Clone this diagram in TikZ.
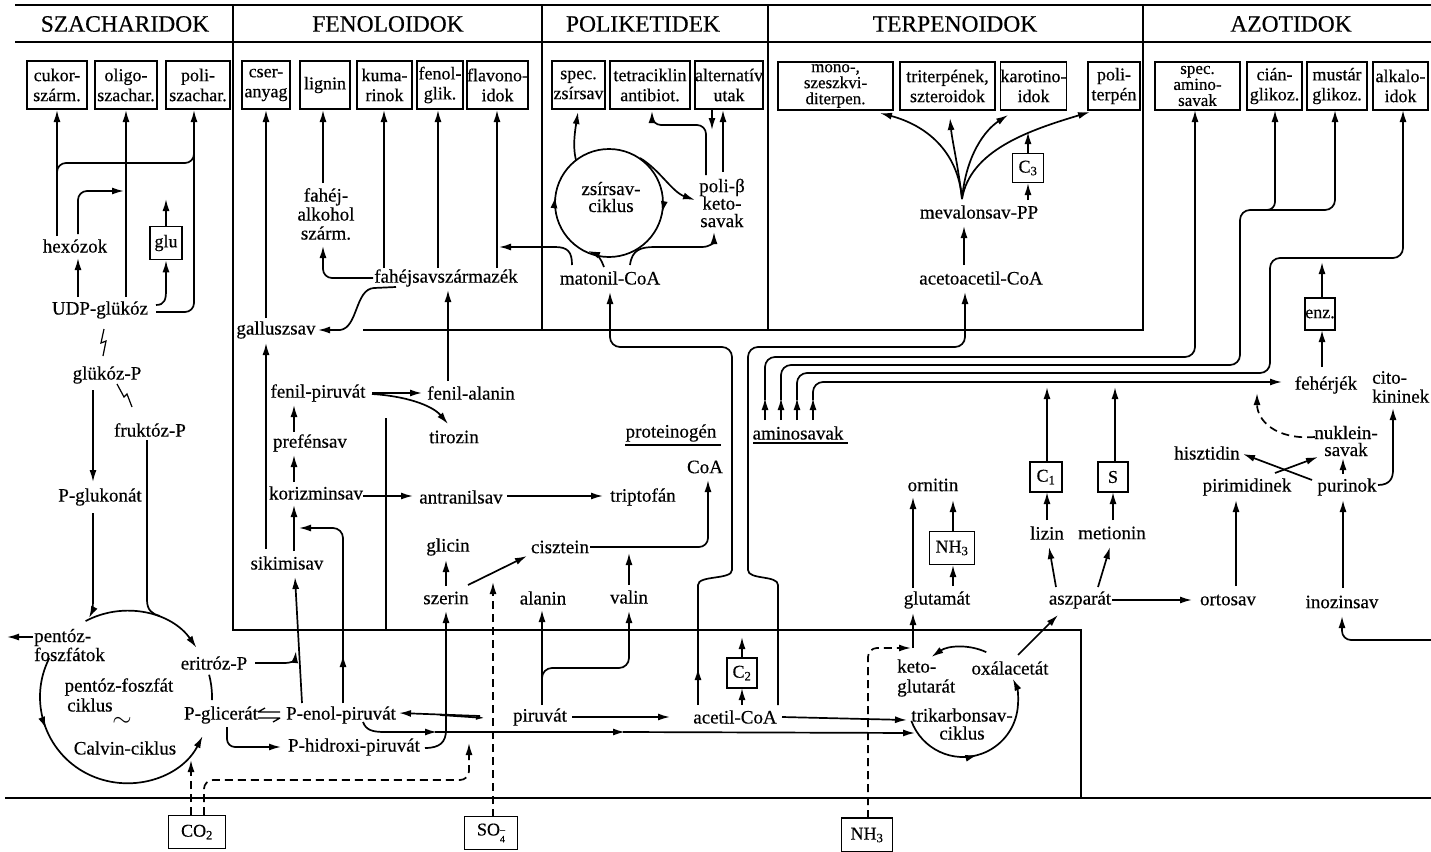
\documentclass[tikz,border=0pt]{standalone}
\usepackage{fontspec}
\setmainfont{Liberation Serif}[FakeBold=0.4]
\usetikzlibrary{arrows.meta,decorations.markings,calc}
\newcommand\lbf{\fontsize{19}{19}\selectfont}
\newcommand\bxf{\fontsize{18}{20}\selectfont}
\newcommand\bxs{\fontsize{17}{16}\selectfont}
\newcommand\hdf{\fontsize{23.5}{25}\selectfont}
\begin{document}
\begin{tikzpicture}[x=1pt,y=-1pt]
\tikzset{
 ln/.style={line width=1.7pt},
 ar/.style={ln,-{Latex[length=12pt,width=7pt]}},
 fr/.style={line width=1.6pt},
 dsh/.style={dash pattern=on 8pt off 5pt},
 lbl/.style={font=\lbf, inner sep=1pt, align=center},
 box/.style={draw, line width=1.6pt, font=\bxf, align=center, inner sep=0pt},
 hd/.style={font=\hdf, inner sep=1pt},
 midarrow/.style={postaction={decorate},decoration={markings,mark=at position #1 with {\arrow{Latex[length=12pt,width=7pt]}}}}
}
\useasboundingbox (0,0) rectangle (1431,851);
% ---------- frame
\draw[fr] (15,5) -- (1431,5);
\draw[fr] (15,42) -- (1431,42);
\draw[fr] (233,5) -- (233,630) -- (1081,630) -- (1081,798);
\draw[fr] (542,5) -- (542,330);
\draw[fr] (768,5) -- (768,330);
\draw[fr] (363,330) -- (1143,330) -- (1143,5);
\draw[fr] (386,418) -- (386,630);
\draw[fr] (5,798) -- (1431,798);
% ---------- headers
\node[hd] (h1) at (125,24) {SZACHARIDOK};
\node[hd] (h2) at (388,24) {FENOLOIDOK};
\node[hd] (h3) at (643,24) {POLIKETIDEK};
\node[hd] (h4) at (955,24) {TERPENOIDOK};
\node[hd] (h5) at (1291,24) {AZOTIDOK};
% ---------- top boxes
\node[box,minimum width=60,minimum height=48] (b1) at (57,85) {cukor-\\szárm.};
\node[box,minimum width=62,minimum height=48] (b2) at (126,85) {oligo-\\szachar.};
\node[box,minimum width=64,minimum height=48] (b3) at (198,85) {poli-\\szachar.};
\node[box,minimum width=48,minimum height=48] (b4) at (266,85) {cser-\\anyag};
\node[box,minimum width=50,minimum height=48] (b5) at (325,85) {lignin};
\node[box,minimum width=55,minimum height=48] (b6) at (384.5,85) {kuma-\\rinok};
\node[box,minimum width=46,minimum height=48] (b7) at (440,85) {fenol-\\glik.};
\node[box,minimum width=59,minimum height=48] (b8) at (497.5,85) {flavono-\\idok};
\node[box,minimum width=53,minimum height=48] (b9) at (578.5,85) {spec.\\zsírsav};
\node[box,minimum width=80,minimum height=48] (b10) at (650,85) {tetraciklin\\antibiot.};
\node[box,minimum width=68,minimum height=48] (b11) at (729,85) {alternatív\\utak};
\node[box,minimum width=115,minimum height=48,font=\bxs] (b12) at (835.5,86) {mono-,\\szeszkvi-\\diterpen.};
\node[box,minimum width=95,minimum height=48] (b13) at (947.5,86) {triterpének,\\szteroidok};
\node[box,minimum width=63,minimum height=48] (b14) at (1033.5,86) {karotino-\\idok};
\node[box,minimum width=52,minimum height=48] (b15) at (1114,86) {poli-\\terpén};
\node[box,minimum width=85,minimum height=48,font=\bxs] (b16) at (1197.5,86) {spec.\\amino-\\savak};
\node[box,minimum width=55,minimum height=48] (b17) at (1274.5,86) {cián-\\glikoz.};
\node[box,minimum width=60,minimum height=48] (b18) at (1337,86) {mustár\\glikoz.};
\node[box,minimum width=55,minimum height=48] (b19) at (1400.5,86) {alkalo-\\idok};
% ---------- SZACHARIDOK
\node[lbl] (hexozok) at (75,246) {hexózok};
\node[box,minimum width=32,minimum height=33] (glu) at (166,243) {glu};
\node[lbl] (udp) at (100,310) {UDP-glükóz};
\node[lbl] (glukp) at (107,375) {glükóz-P};
\node[lbl] (frukp) at (150,430) {fruktóz-P};
\node[lbl] (pglukonat) at (100,497) {P-glukonát};
\node[lbl,align=left,anchor=west] (pentoz) at (33,645) {pentóz-\\foszfátok};
\node[lbl] (eritroz) at (214,663) {eritróz-P};
\node[lbl] (pglicerat) at (221,715) {P-glicerát};
\node[lbl] (pfc) at (119,687) {pentóz-foszfát};
\node[lbl,anchor=west] (cikl1) at (66,705) {ciklus};
\node[font=\fontsize{26}{26}\selectfont] (tilde) at (122,722) {$\sim$};
\node[lbl] (calvin) at (125,748) {Calvin-ciklus};
\node[box,minimum width=57,minimum height=33] (co2) at (197,832) {CO\textsubscript{2}};

\draw[ar] (57,236) -- (57,110);
\draw[ln,rounded corners=9pt] (57,180) -- (57,163) -- (194,163) -- (194,150);
\draw[ar] (126,297) -- (126,110);
\draw[ar,rounded corners=9pt] (78,234) -- (78,191) -- (124,191);
\draw[ar] (78,297) -- (78,258);
\draw[ar] (glu.north) -- (166,199);
\draw[ar] (156,305) .. controls (165,305) and (166,299) .. (166,290) -- (glu.south);
\draw[ar,rounded corners=9pt] (156,312) -- (194,312) -- (194,110);
\draw[ln,line width=1.2pt] (104,329) -- (101,343) -- (106,341) -- (103,356);
\draw[ln,line width=1.2pt] (117,384) -- (124,397) -- (127,394) -- (132,407);
\draw[ar] (93,390) -- (93,482);
\draw[ar] (93,513) -- (93,600) .. controls (93,607) and (92,612) .. (89,618);
\draw[ln] (147,440) -- (147,600) .. controls (147,610) and (152,614) .. (160,616);
\draw[ar] ($(126,697)+(-118:86)$) arc[start angle=-118,end angle=-35,radius=86];
\draw[ar,midarrow=0.27] ($(126,697)+(-153:86)$) arc[start angle=-153,end angle=-333,radius=86];
\draw[ln] ($(126,697)+(-15:86)$) arc[start angle=-15,end angle=2,radius=86];
\draw[ar] (33,637) -- (7,637);
\draw[ar,dsh] (191,815) -- (191,760);
\draw[ar,dsh,rounded corners=9pt] (204,815) -- (204,780) -- (469,780) -- (469,743);
% ---------- FENOLOIDOK
\node[lbl] (fahejalk) at (326,214) {fahéj-\\alkohol\\szárm.};
\node[lbl] (fahejsav) at (446,278) {fahéjsavszármazék};
\node[lbl] (gallusz) at (276,330) {galluszsav};
\node[lbl] (sikimi) at (287,563) {sikimisav};
\node[lbl] (koriz) at (316,493) {korizminsav};
\node[lbl] (prefen) at (310,443) {prefénsav};
\node[lbl] (fenpir) at (318,393) {fenil-piruvát};
\node[lbl] (fenala) at (471,393) {fenil-alanin};
\node[lbl] (tirozin) at (454,437) {tirozin};
\node[lbl] (antran) at (461,497) {antranilsav};
\node[lbl] (tripto) at (643,497) {triptofán};
\node[lbl] (protein) at (671,433) {proteinogén};
\node[lbl] (coa) at (705,467) {CoA};
\node[lbl] (glicin) at (448,547) {glicin};
\node[lbl] (ciszt) at (560,547) {cisztein};
\node[lbl] (szerin) at (446,598) {szerin};
\node[lbl] (alanin) at (543,598) {alanin};
\node[lbl] (valin) at (629,597) {valin};
\node[lbl] (penol) at (341,715) {P-enol-piruvát};
\node[lbl] (phidr) at (354,747) {P-hidroxi-piruvát};
\node[lbl] (piruvat) at (540,717) {piruvát};
\node[lbl] (acetil) at (735,717) {acetil-CoA};
\node[box,minimum width=30,minimum height=30] (c2) at (742,673) {C\textsubscript{2}};
\node[box,minimum width=53,minimum height=33] (so4) at (491,833) {SO\raisebox{-7pt}{\fontsize{10}{12.5}\selectfont\shortstack[l]{--\\4}}};
\draw[fr] (625,445) -- (721,445);

\draw[ar] (384,268) -- (384,110);
\draw[ar] (438,268) -- (438,110);
\draw[ar] (497,268) -- (497,110);
\draw[ar,rounded corners=9pt] (373,278) -- (323,278) -- (323,246);
\draw[ar] (323,183) -- (323,110);
\draw[ar] (396,287) -- (374,288) .. controls (355,289) and (358,328) .. (340,330) -- (318,330);
\draw[ar] (266,318) -- (266,110);
\draw[ar] (266,549) -- (266,343);
\draw[ar] (294,551) -- (294,505);
\draw[ar] (294,482) -- (294,455);
\draw[ar] (294,432) -- (294,405);
\draw[ar] (302,703) -- (295,577);
\draw[ar] (255,663) -- (284,663) .. controls (292,663) and (295,660) .. (296,651);
\draw[ar] (343,703) -- (343,655);
\draw[ar,rounded corners=10pt] (343,660) -- (343,528) -- (299,528);
\draw[ar] (372,393) -- (422,393);
\draw[ar] (372,394) .. controls (405,396) and (432,405) .. (448,424);
\draw[ar] (448,381) -- (448,290);
\draw[ar] (363,496) -- (413,496);
\draw[ar] (507,496) -- (603,496);
\draw[ar,rounded corners=9pt] (590,547) -- (708,547) -- (708,480);
\draw[ar] (446,586) -- (446,560);
\draw[ar] (468,585) -- (527,556);
\draw[ar] (629,585) -- (629,553);
\draw[ar,dsh] (493,817) -- (493,582);
\draw[ar] (542,705) -- (542,610);
\draw[ar,rounded corners=10pt] (542,690) -- (542,668) -- (629,668) -- (629,611);
\draw[ar] (572,717) -- (670,717);
\draw[ar] (742,705) -- (742,688);
\draw[ar] (742,658) -- (742,637);
\draw[ln,line width=1.3pt] (258,712) -- (280,712) (258,712) -- (265,708);
\draw[ln,line width=1.3pt] (258,718) -- (280,718) (280,718) -- (273,722);
\draw[ar] (480,716) -- (399,713);
\draw[ln,-{Latex[length=9pt,width=5pt]}] (440,715) -- (485,718);
\draw[ar,rounded corners=8pt] (227,727) -- (227,747) -- (281,747);
\draw[ar] (425,748) .. controls (440,748) and (446,742) .. (446,730) -- (446,611);
\draw[ar] (363,722) .. controls (366,730) and (372,732) .. (385,732) -- (437,732);
\draw[ar] (435,732) -- (625,732);
\draw[ar] (623,732) -- (915,733);
\draw[ar] (698,705) -- (698,668);
\draw[ar,rounded corners=10pt] (698,672) -- (698,595) .. controls (698,575) and (732,580) .. (732,560) -- (732,347) -- (610,347) -- (610,292);
\draw[ar,rounded corners=10pt] (778,705) -- (778,595) .. controls (778,575) and (748,580) .. (748,560) -- (748,347) -- (965,347) -- (965,292);
% ---------- POLIKETIDEK
\node[lbl] (matonil) at (610,278) {matonil-CoA};
\node[lbl,font=\fontsize{19}{17}\selectfont] (zsir) at (611,197) {zsírsav-\\ciklus};
\node[lbl,font=\fontsize{19}{17.5}\selectfont] (polib) at (722,203) {poli-β\\keto-\\savak};
\draw[ln,postaction={decorate},decoration={markings,
  mark=at position 0.03 with {\arrow{Latex[length=12pt,width=7pt]}},
  mark=at position 0.52 with {\arrow{Latex[length=12pt,width=7pt]}}}] (609,203) circle[radius=54];
\draw[ar] (576,160) .. controls (572,145) and (576,125) .. (578,112);
\draw[ar] (640,158) .. controls (660,170) and (672,192) .. (695,200);
\draw[ar] (604,267) .. controls (602,260) and (596,254) .. (588,251);
\draw[ar] (630,265) .. controls (632,250) and (640,247) .. (655,247) -- (702,247) .. controls (710,247) and (714,242) .. (714,232);
\draw[ar] (572,265) .. controls (572,252) and (568,247) .. (555,247) -- (499,247);
\draw[ar,rounded corners=9pt] (706,175) -- (706,125) -- (652,125) -- (652,111);
\draw[ar] (712,110) -- (712,130);
\draw[ar] (723,172) -- (723,110);
% ---------- TERPENOIDOK
\node[lbl] (mevalon) at (979,212) {mevalonsav-PP};
\node[lbl] (acetoac) at (981,278) {acetoacetil-CoA};
\node[box,minimum width=31,minimum height=29] (c3) at (1028,168) {C\textsubscript{3}};
\draw[ar] (964,265) -- (964,226);
\draw[ar] (962,199) .. controls (958,150) and (925,125) .. (880,113);
\draw[ar] (962,199) .. controls (958,165) and (952,140) .. (950,118);
\draw[ar] (962,199) .. controls (966,155) and (985,130) .. (1008,115);
\draw[ar] (962,199) .. controls (970,150) and (1030,130) .. (1090,112);
\draw[ar] (1028,200) -- (1028,183);
\draw[ar] (1028,153) -- (1028,132);
% ---------- TCA, amino acids
\node[lbl] (aminos) at (798,433) {aminosavak};
\draw[fr] (753,443) -- (848,443);
\node[lbl] (ornitin) at (933,485) {ornitin};
\node[box,minimum width=45,minimum height=33] (nh3m) at (952,548) {NH\textsubscript{3}};
\node[lbl] (glutamat) at (937,600) {glutamát};
\node[box,minimum width=32,minimum height=30] (c1) at (1046,477) {C\textsubscript{1}};
\node[box,minimum width=30,minimum height=30] (sbox) at (1113,477) {S};
\node[lbl] (lizin) at (1047,533) {lizin};
\node[lbl] (metionin) at (1112,533) {metionin};
\node[lbl] (aszparat) at (1080,600) {aszparát};
\node[lbl] (ortosav) at (1228,600) {ortosav};
\node[lbl] (inozin) at (1342,602) {inozinsav};
\node[lbl,align=left,anchor=west,font=\fontsize{19}{20}\selectfont] (keto) at (896,678) {keto-\\glutarát};
\node[lbl] (oxal) at (1010,668) {oxálacetát};
\node[lbl,font=\fontsize{19}{18}\selectfont] (trik) at (962,724) {trikarbonsav-\\ciklus};
\node[box,minimum width=51,minimum height=34] (nh3b) at (867,835) {NH\textsubscript{3}};

\draw[ar] ($(963,702)+(-65:55)$) arc[start angle=-65,end angle=-125,radius=55];
\draw[ar,midarrow=0.46] ($(963,702)+(-200:55)$) arc[start angle=-200,end angle=-385,radius=55];
\draw[ar] (782,717) -- (907,720);
\draw[ar] (913,648) -- (913,613);
\draw[ar,dsh,rounded corners=9pt] (868,818) -- (868,648) -- (911,648);
\draw[ar] (913,588) -- (913,497);
\draw[ar] (953,586) -- (953,565);
\draw[ar] (953,532) -- (953,500);
\draw[ar] (1018,655) -- (1058,615);
\draw[ar] (1112,600) -- (1192,600);
\draw[ar,rounded corners=9pt] (1431,640) -- (1342,640) -- (1342,616);
\draw[ar] (1056,587) -- (1049,547);
\draw[ar] (1098,587) -- (1110,547);
\draw[ar] (1047,520) -- (1047,492);
\draw[ar] (1113,520) -- (1113,492);
\draw[ar] (1047,462) -- (1047,387);
\draw[ar] (1115,462) -- (1115,387);
\foreach \xx in {765,781,797,813} {\draw[ar] (\xx,420) -- (\xx,398);}
\draw[ar,rounded corners=10pt] (765,400) -- (765,357) -- (1195,357) -- (1195,110);
\draw[ar,rounded corners=10pt] (781,400) -- (781,365) -- (1240,365) -- (1240,210) -- (1335,210) -- (1335,110);
\draw[ar,rounded corners=8pt] (1258,210) -- (1275,210) -- (1275,110);
\draw[ar,rounded corners=10pt] (797,400) -- (797,373) -- (1270,373) -- (1270,258) -- (1403,258) -- (1403,110);
\draw[ar,rounded corners=10pt] (813,400) -- (813,382) -- (1282,382);
% ---------- AZOTIDOK lower
\node[lbl] (feher) at (1326,385) {fehérjék};
\node[lbl,align=left,anchor=west] (cito) at (1371,387) {cito-\\kininek};
\node[box,minimum width=28,minimum height=32] (enz) at (1320,314) {enz.};
\node[lbl,font=\fontsize{19}{17}\selectfont] (nuklein) at (1346,441) {nuklein-\\savak};
\node[lbl] (hiszt) at (1207,453) {hisztidin};
\node[lbl] (pirim) at (1247,487) {pirimidinek};
\node[lbl] (purin) at (1347,487) {purinok};
\draw[ar] (1322,367) -- (1322,330);
\draw[ar] (1322,298) -- (1322,262);
\draw[ar,dsh] (1315,437) .. controls (1275,440) and (1257,420) .. (1257,393);
\draw[ar] (1312,480) -- (1243,454);
\draw[ar] (1275,473) -- (1318,457);
\draw[ar] (1343,474) -- (1343,458);
\draw[ar] (1378,485) .. controls (1390,485) and (1393,478) .. (1393,470) -- (1393,408);
\draw[ar] (1236,586) -- (1236,500);
\draw[ar] (1343,588) -- (1343,500);
\end{tikzpicture}
\end{document}
